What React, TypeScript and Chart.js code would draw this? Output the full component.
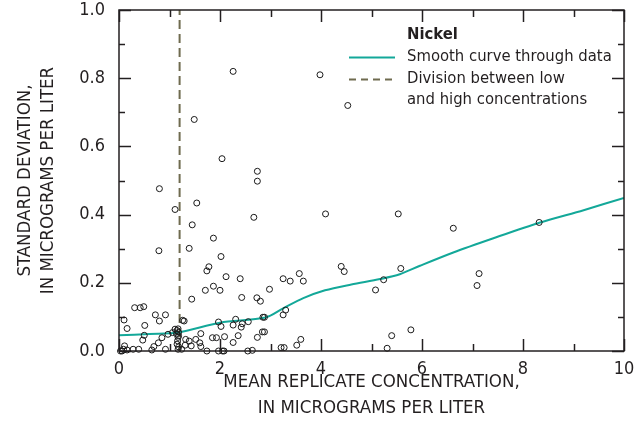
import React, { useEffect, useRef } from "react";
import { Chart, registerables } from "chart.js";

Chart.register(...registerables);

// Mean replicate concentration (x) and standard deviation (y), micrograms per liter
const meanConcentration = [
  0.03, 0.06, 0.09, 0.16, 0.11, 0.28, 0.39, 0.65, 0.92, 0.69, 0.78, 0.47, 0.5, 0.85, 0.97, 0.51, 0.16, 0.1, 0.8, 0.72,
  0.92, 0.31, 0.42, 0.49, 1.06, 1.11, 1.17, 1.15, 1.18, 1.14, 1.18, 1.17, 1.16, 1.15, 1.18, 1.17, 1.24, 1.29, 1.26, 1.31,
  1.32, 1.39, 1.43, 1.52, 1.6, 1.62, 1.62, 1.74, 1.85, 1.93, 1.97, 2.05, 1.97, 0.8, 1.11, 1.54, 1.45, 1.87, 0.79, 1.39,
  2.02, 1.78, 1.74, 2.12, 1.87, 1.71, 2.0, 1.44, 2.26, 1.49, 2.04, 2.74, 2.74, 3.98, 4.53, 2.67, 4.09, 5.53, 6.62, 8.32,
  5.58, 7.13, 7.09, 5.78, 2.4, 3.57, 3.25, 3.39, 3.65, 4.4, 4.46, 2.98, 2.43, 2.73, 2.8, 5.24, 5.08, 3.3, 3.25, 2.85,
  2.88, 2.31, 2.56, 2.44, 2.26, 2.42, 2.02, 2.84, 2.88, 2.09, 2.36, 2.74, 3.6, 2.26, 3.52, 3.21, 3.27, 2.08, 2.55, 2.64,
  5.4, 5.31,
];
const standardDeviation = [
  0.0, 0.0, 0.005, 0.003, 0.015, 0.005, 0.005, 0.003, 0.005, 0.013, 0.024, 0.032, 0.046, 0.039, 0.049, 0.075, 0.066, 0.091, 0.088, 0.106,
  0.106, 0.127, 0.127, 0.13, 0.054, 0.064, 0.065, 0.06, 0.055, 0.05, 0.045, 0.04, 0.03, 0.02, 0.012, 0.005, 0.005, 0.088, 0.09, 0.017,
  0.034, 0.029, 0.015, 0.034, 0.024, 0.013, 0.051, 0.0, 0.039, 0.039, 0.0, 0.0, 0.085, 0.476, 0.415, 0.434, 0.37, 0.331, 0.294, 0.301,
  0.277, 0.247, 0.235, 0.218, 0.19, 0.178, 0.178, 0.152, 0.82, 0.679, 0.564, 0.527, 0.498, 0.81, 0.72, 0.392, 0.402, 0.402, 0.36, 0.377,
  0.242, 0.227, 0.192, 0.062, 0.212, 0.227, 0.212, 0.205, 0.205, 0.248, 0.233, 0.181, 0.157, 0.156, 0.146, 0.209, 0.179, 0.12, 0.106, 0.099,
  0.099, 0.093, 0.086, 0.08, 0.076, 0.07, 0.072, 0.056, 0.056, 0.042, 0.045, 0.04, 0.034, 0.025, 0.017, 0.01, 0.01, 0.0, 0.0, 0.002,
  0.045, 0.008,
];

// Smooth curve through data
const curveX = [0, 0.6, 1.17, 2.0, 2.9, 3.25, 3.65, 4.08, 4.6, 5.17, 5.56, 5.96, 6.62, 7.4, 8.34, 9.2, 10.0];
const curveY = [0.046, 0.05, 0.054, 0.083, 0.098, 0.125, 0.155, 0.178, 0.195, 0.211, 0.225, 0.25, 0.289, 0.33, 0.377, 0.413, 0.449];

// Division between low and high concentrations
const divisionX = 1.2;
const divisionY = [0, 1.0];

const xTickLabels = [0, 2, 4, 6, 8, 10];
const yTickLabels = [0, 0.2, 0.4, 0.6, 0.8, 1.0];
const xMinorStep = 1;
const yMinorStep = 0.1;

const legendTitle = "Nickel";
const legendCurve = "Smooth curve through data";
const legendDivision = ["Division between low", "and high concentrations"];

const FONT = "'Liberation Sans Narrow', 'DejaVu Sans Condensed', 'Arial Narrow', sans-serif";
const TEXT = "#231f20";
const TEAL = "#13a899";
const OLIVE = "#6f6b4f";

export default function App() {
  const ref = useRef<HTMLCanvasElement | null>(null);

  useEffect(() => {
    if (!ref.current) return;

    const framePlugin = {
      id: "frameTicks",
      afterDraw(chart: any) {
        const { ctx, chartArea, scales } = chart;
        const { left, right, top, bottom } = chartArea;
        const xs = scales.x;
        const ys = scales.y;
        ctx.save();
        ctx.strokeStyle = TEXT;
        ctx.lineWidth = 1.5;
        ctx.strokeRect(left, top, right - left, bottom - top);
        const line = (a: number, b: number, c: number, d: number) => {
          ctx.beginPath();
          ctx.moveTo(a, b);
          ctx.lineTo(c, d);
          ctx.stroke();
        };
        const xMax = xTickLabels[xTickLabels.length - 1];
        for (let v = xTickLabels[0]; v <= xMax + 1e-9; v += xMinorStep) {
          const px = Math.round(xs.getPixelForValue(v)) + 0.5;
          const major = xTickLabels.some((t) => Math.abs(t - v) < 1e-6);
          const len = major ? 12 : 7;
          line(px, bottom, px, bottom - len);
          line(px, top, px, top + len);
        }
        const yMax = yTickLabels[yTickLabels.length - 1];
        for (let i = 0; i * yMinorStep <= yMax + 1e-9; i++) {
          const v = i * yMinorStep;
          const py = Math.round(ys.getPixelForValue(v)) + 0.5;
          const major = yTickLabels.some((t) => Math.abs(t - v) < 1e-6);
          const len = major ? 12 : 6;
          line(left, py, left + len, py);
          line(right, py, right - len, py);
        }

        // legend
        const lx0 = 349;
        const lx1 = 395;
        const tx = 407;
        ctx.fillStyle = TEXT;
        ctx.textBaseline = "middle";
        ctx.textAlign = "left";
        ctx.font = `bold 16.5px ${FONT}`;
        ctx.fillText(legendTitle, tx, 35);
        ctx.font = `16.5px ${FONT}`;
        ctx.fillText(legendCurve, tx, 57);
        ctx.fillText(legendDivision[0], tx, 79);
        ctx.fillText(legendDivision[1], tx, 100);
        ctx.strokeStyle = TEAL;
        ctx.lineWidth = 2;
        line(lx0, 57.5, lx1, 57.5);
        ctx.strokeStyle = OLIVE;
        ctx.setLineDash([7, 5]);
        line(lx0, 79.5, lx1, 79.5);
        ctx.setLineDash([]);
        ctx.restore();
      },
    };

    const chart = new Chart(ref.current, {
      type: "scatter",
      data: {
        datasets: [
          {
            label: "data",
            data: meanConcentration.map((x, i) => ({ x, y: standardDeviation[i] })),
            pointStyle: "circle",
            pointRadius: 3,
            pointBorderWidth: 1,
            pointBorderColor: "#1a1a1a",
            pointBackgroundColor: "rgba(255,255,255,0)",
            showLine: false,
            clip: false,
          } as any,
          {
            label: legendCurve,
            data: curveX.map((x, i) => ({ x, y: curveY[i] })),
            showLine: true,
            borderColor: TEAL,
            borderWidth: 2,
            pointRadius: 0,
            tension: 0.3,
          } as any,
          {
            label: legendDivision.join(" "),
            data: divisionY.map((y) => ({ x: divisionX, y })),
            showLine: true,
            borderColor: OLIVE,
            borderWidth: 2,
            borderDash: [9, 5],
            pointRadius: 0,
          } as any,
        ],
      },
      options: {
        animation: false,
        responsive: false,
        devicePixelRatio: 1,
        layout: { padding: { top: 10, right: 10, left: 0, bottom: 0 } },
        plugins: { legend: { display: false }, tooltip: { enabled: false } },
        scales: {
          x: {
            type: "linear",
            min: 0,
            max: 10,
            grid: { display: false, drawTicks: false },
            border: { display: false },
            afterBuildTicks: (scale: any) => {
              scale.ticks = xTickLabels.map((v) => ({ value: v }));
            },
            ticks: {
              color: TEXT,
              font: { family: FONT, size: 18 },
              padding: 8,
              callback: (v: any) => String(v),
            },
            title: {
              display: true,
              text: ["MEAN REPLICATE CONCENTRATION,", "IN MICROGRAMS PER LITER"],
              color: TEXT,
              font: { family: FONT, size: 18.5, lineHeight: 1.45 },
              padding: { top: 2, bottom: 22 },
            },
            afterFit: (scale: any) => {
              scale.height = 93;
              scale.paddingLeft = 0;
              scale.paddingRight = 0;
            },
          },
          y: {
            type: "linear",
            min: 0,
            max: 1,
            grid: { display: false, drawTicks: false },
            border: { display: false },
            afterBuildTicks: (scale: any) => {
              scale.ticks = yTickLabels.map((v) => ({ value: v }));
            },
            ticks: {
              color: TEXT,
              font: { family: FONT, size: 18 },
              padding: 14,
              callback: (v: any) => Number(v).toFixed(1),
            },
            title: {
              display: true,
              text: ["STANDARD DEVIATION,", "IN MICROGRAMS PER LITER"],
              color: TEXT,
              font: { family: FONT, size: 18.5, lineHeight: 1.22 },
              padding: { top: 14, bottom: 4 },
            },
            afterFit: (scale: any) => {
              scale.width = 119;
              scale.paddingTop = 0;
              scale.paddingBottom = 0;
            },
          },
        },
      } as any,
      plugins: [framePlugin],
    });

    return () => chart.destroy();
  }, []);

  return (
    <div style={{ position: "fixed", left: 0, top: 0, width: 634, height: 444, background: "#fff" }}>
      <canvas ref={ref} width={634} height={444} style={{ display: "block" }} />
    </div>
  );
}
